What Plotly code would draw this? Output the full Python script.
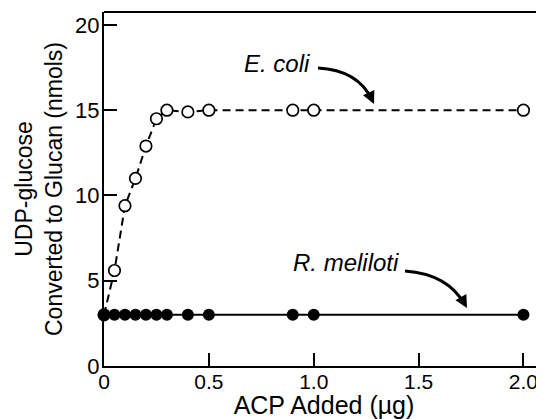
import plotly.graph_objects as go

# Data
ecoli_x = [0, 0.05, 0.1, 0.15, 0.2, 0.25, 0.3, 0.4, 0.5, 0.9, 1.0, 2.0]
ecoli_y = [3.0, 5.6, 9.4, 11.0, 12.9, 14.5, 15.0, 14.9, 15.0, 15.0, 15.0, 15.0]
rmel_x = [0, 0.05, 0.1, 0.15, 0.2, 0.25, 0.3, 0.4, 0.5, 0.9, 1.0, 2.0]
rmel_y = [3.0, 3.0, 3.0, 3.0, 3.0, 3.0, 3.0, 3.0, 3.0, 3.0, 3.0, 3.0]
x_ticks = [0, 0.5, 1.0, 1.5, 2.0]
x_ticklabels = ["0", "0.5", "1.0", "1.5", "2.0"]
y_ticks = [0, 5, 10, 15, 20]
y_ticklabels = ["0", "5", "10", "15", "20"]

# page body has an 8px margin; figure is sized to fill the rest of the window
OFF = 8
W, H = 544 - OFF, 419 - OFF
L, R, T, B = 104 - OFF, 0, 12 - OFF, 53
XMAX = 2.098
YMAX = 20.76

def px(xp, yp):
    """convert window pixel position to data coordinates (for annotation arrows)"""
    xp -= OFF
    yp -= OFF
    xd = (xp - L) / (W - L - R) * XMAX
    yd = (H - B - yp) / (H - B - T) * YMAX
    return xd, yd

FONT = "Liberation Sans, Arial, Helvetica, sans-serif"

fig = go.Figure()
fig.add_trace(go.Scatter(
    x=ecoli_x, y=ecoli_y, mode="lines+markers",
    line=dict(color="black", width=2, dash="8px,5px"),
    marker=dict(symbol="circle", size=11.5, color="white",
                line=dict(color="black", width=1.7)),
    cliponaxis=False, showlegend=False))
fig.add_trace(go.Scatter(
    x=rmel_x, y=rmel_y, mode="lines+markers",
    line=dict(color="black", width=2),
    marker=dict(symbol="circle", size=12, color="black"),
    cliponaxis=False, showlegend=False))

shapes = []
# top border line
shapes.append(dict(type="line", xref="paper", yref="paper", x0=0, x1=1, y0=1, y1=1,
                   line=dict(color="black", width=2)))

def curve(p0, c, p1):
    a = px(*p0); b = px(*c); d = px(*p1)
    return dict(type="path", xref="x", yref="y",
                path=f"M {a[0]},{a[1]} Q {b[0]},{b[1]} {d[0]},{d[1]}",
                line=dict(color="black", width=3))

shapes.append(curve((318, 68), (358, 70), (372, 100)))
shapes.append(curve((405, 271), (448, 274), (465, 305)))

annotations = []
def head(tip, ctrl):
    t = px(*tip)
    dx, dy = tip[0] - ctrl[0], tip[1] - ctrl[1]
    n = (dx * dx + dy * dy) ** 0.5
    return dict(x=t[0], y=t[1], xref="x", yref="y", text="", showarrow=True,
                arrowhead=2, arrowsize=1.0, arrowwidth=2.5, arrowcolor="black",
                ax=-dx / n * 14, ay=-dy / n * 14)

annotations.append(head((374, 104), (358, 70)))
annotations.append(head((467, 308), (448, 274)))

ex, ey = px(277, 63)
annotations.append(dict(x=ex, y=ey, xref="x", yref="y", text="<i>E. coli</i>",
                        showarrow=False, font=dict(family=FONT, size=24, color="black")))
rx, ry = px(346, 262)
annotations.append(dict(x=rx, y=ry, xref="x", yref="y", text="<i>R. meliloti</i>",
                        showarrow=False, font=dict(family=FONT, size=24, color="black")))

fig.update_layout(
    width=W, height=H,
    margin=dict(l=L, r=R, t=T, b=B, autoexpand=False),
    paper_bgcolor="white", plot_bgcolor="white",
    font=dict(family=FONT, color="black"),
    shapes=shapes, annotations=annotations,
    xaxis=dict(range=[0, XMAX], tickvals=x_ticks, ticktext=x_ticklabels,
               ticks="inside", ticklen=13, tickwidth=2, tickcolor="black",
               showline=True, linecolor="black", linewidth=2,
               showgrid=False, zeroline=False,
               tickfont=dict(size=21), ticklabelstandoff=-4,
               title=dict(text="ACP Added (µg)", font=dict(size=25), standoff=12)),
    yaxis=dict(range=[0, YMAX], tickvals=y_ticks, ticktext=y_ticklabels,
               ticks="inside", ticklen=13, tickwidth=2, tickcolor="black",
               showline=True, linecolor="black", linewidth=2,
               showgrid=False, zeroline=False,
               tickfont=dict(size=22), ticklabelstandoff=-2,
               title=dict(text="UDP-glucose<br>Converted to Glucan (nmols)",
                          font=dict(size=23), standoff=6)),
)

fig.write_html("out.html")
